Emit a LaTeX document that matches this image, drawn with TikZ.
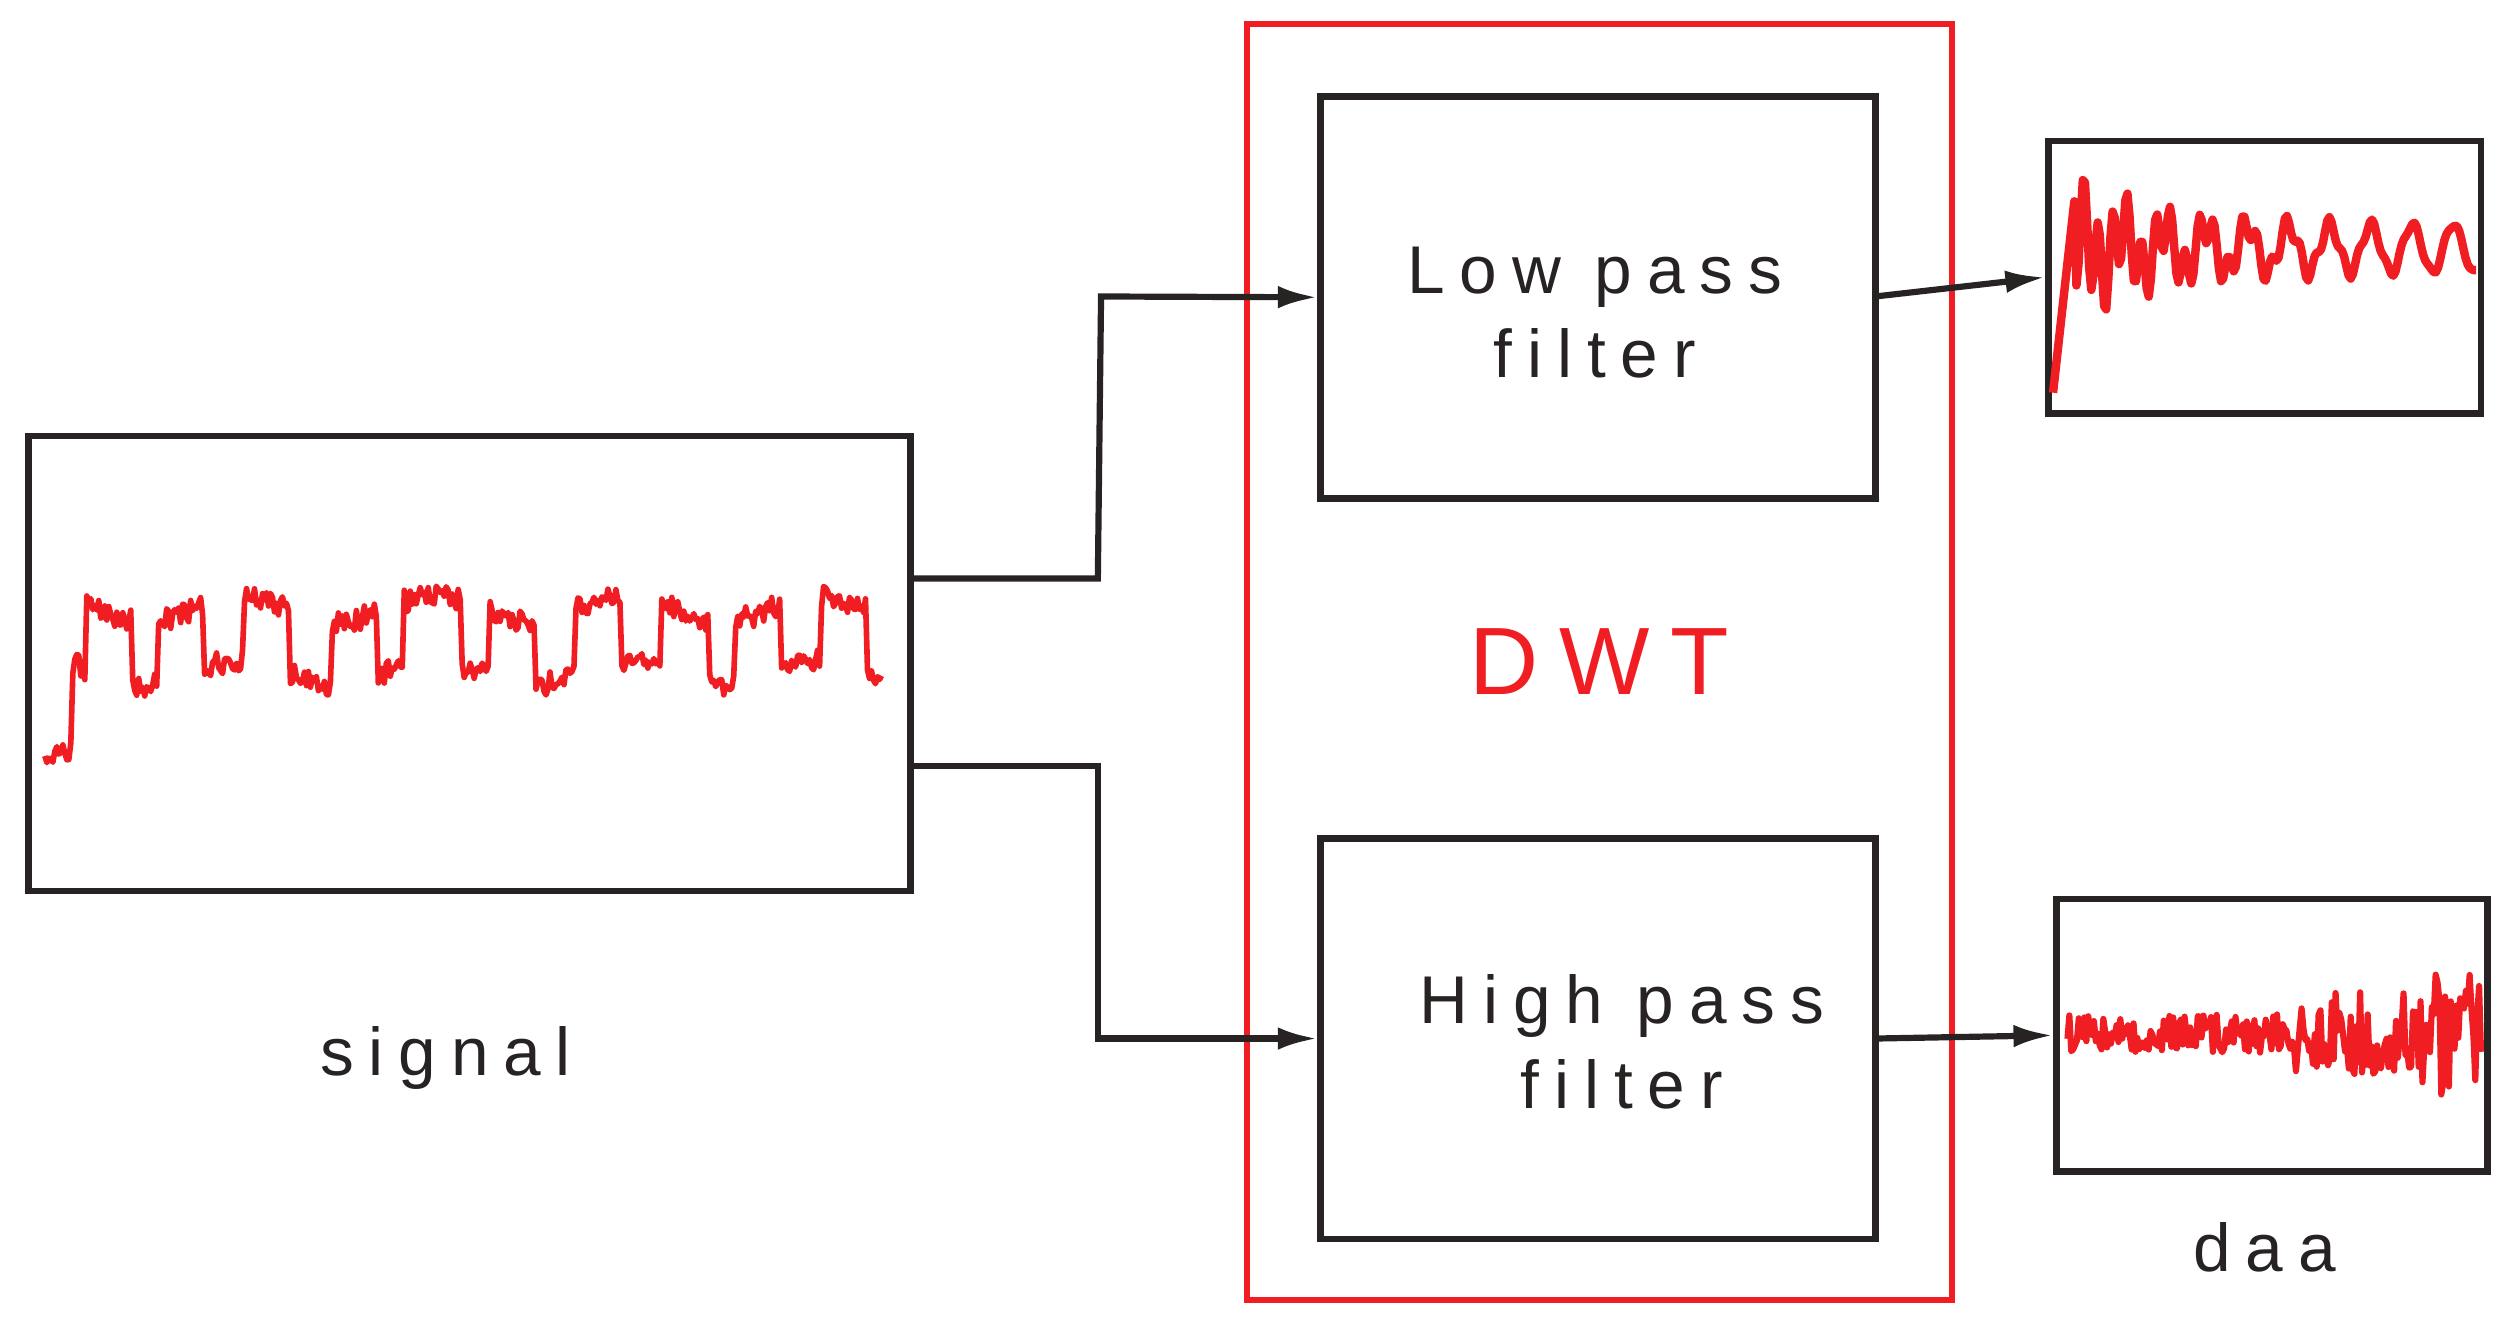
\documentclass[tikz,border=0pt]{standalone}
\usepackage{fontspec}
\setmainfont{Liberation Sans}
\newfontfamily\spaced[LetterSpace=22]{Liberation Sans}
\usetikzlibrary{arrows.meta}
\definecolor{sigred}{RGB}{240,30,35}
\definecolor{boxblack}{RGB}{40,35,35}
\begin{document}
\begin{tikzpicture}[x=0.02cm,y=-0.02cm,
  blk/.style={draw=boxblack,line width=2.4pt},
  conn/.style={draw=boxblack,line width=2.2pt,-{Latex[length=14pt,width=8pt]}},
  lbl/.style={font=\spaced\fontsize{24}{30}\selectfont,text=boxblack,align=center},
  wave/.style={sigred,line width=2pt,line join=round}]
\useasboundingbox (0,0) rectangle (1568,827);
\node[blk,minimum width=550*0.02cm,minimum height=284*0.02cm,inner sep=0] (sig) at (293,414) {};
\node[draw=sigred,line width=2pt,minimum width=440*0.02cm,minimum height=796*0.02cm,inner sep=0] (dwt) at (998,413) {};
\node[blk,minimum width=346*0.02cm,minimum height=251*0.02cm,inner sep=0] (low) at (997,185.5) {};
\node[blk,minimum width=346*0.02cm,minimum height=250*0.02cm,inner sep=0] (high) at (997,648) {};
\node[blk,minimum width=270*0.02cm,minimum height=170*0.02cm,inner sep=0] (o1) at (1413,173) {};
\node[blk,minimum width=269*0.02cm,minimum height=170*0.02cm,inner sep=0] (o2) at (1417.5,646) {};
\node[lbl] (lowt) at (995,195) {Low pass\\filter};
\node[lbl] (hight) at (1012,650) {High pass\\filter};
\node[text=sigred,font=\fontsize{34}{40}\selectfont\spaced] (dwtt) at (998,413) {DWT};
\node[lbl] (sigt) at (278,660) {signal};
\node[lbl] (daa) at (1413,778) {daa};
\coordinate (a1) at (568,361); \coordinate (a2) at (568,478);
\draw[conn] (a1) -- (685,361) -- (687,185) -- (low.west);
\draw[conn] (a2) -- (685,478) -- (685,648) -- (high.west);
\draw[conn] (1170,185) -- (o1.west);
\draw[conn] (1170,648) -- (o2.west);
\pgfmathsetseed{7}
\draw[wave] plot[domain=28:550,samples=420] ({\x},{ifthenelse(\x<45,470+8*rand,400-20*sign(sin(\x*7)+0.4*sin(\x*19)+0.2)-8*sin(\x*3)+7*rand)});
\draw[wave,line width=3pt] plot[domain=1281:1545,samples=200] ({\x},{ifthenelse(\x<1295,245-(\x-1281)*9,155+15*sin((\x-1280)*14)-35*sin((\x-1280)*40)*exp(-(\x-1290)/80))});
\draw[wave,line width=2.2pt] plot[domain=1290:1548,samples=220] ({\x},{645+rand*(12+ifthenelse(\x>1430,14,0)+ifthenelse(\x>1510,12,0))});
\end{tikzpicture}
\end{document}
